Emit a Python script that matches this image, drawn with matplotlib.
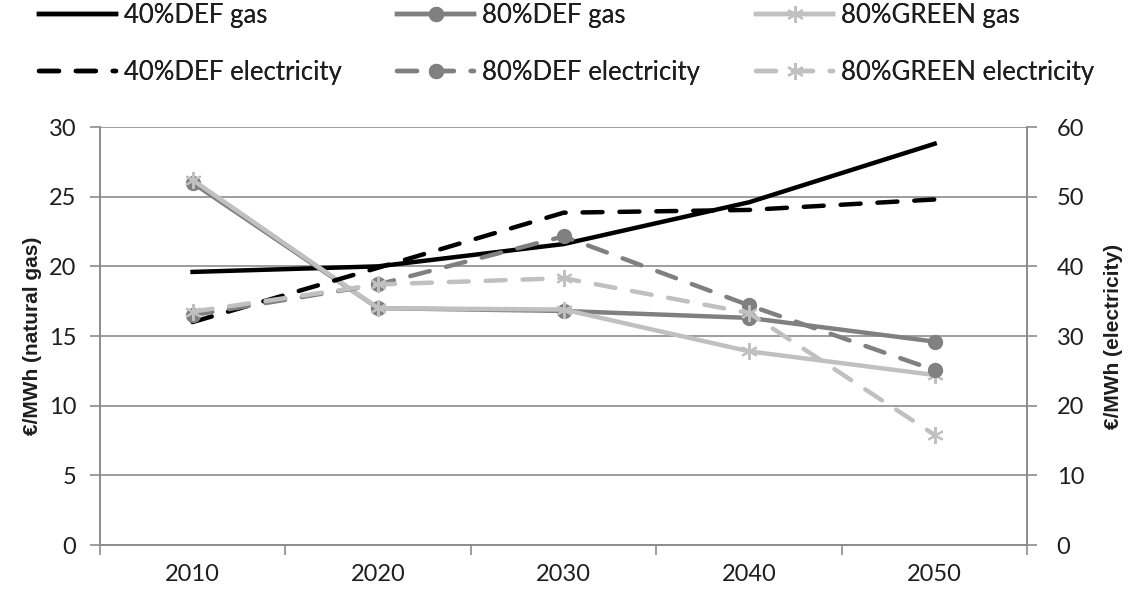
import matplotlib
matplotlib.use("Agg")
import matplotlib.pyplot as plt
from matplotlib.ticker import FixedLocator

plt.rcParams['font.family'] = ['Lato', 'DejaVu Sans']

years = ['2010', '2020', '2030', '2040', '2050']

# gas prices, EUR/MWh (left axis)
gas_40def = [19.6, 20.0, 21.6, 24.6, 28.8]
gas_80def = [26.0, 17.0, 16.8, 16.3, 14.6]
gas_80green = [26.2, 17.0, 16.9, 13.9, 12.2]

# electricity prices, EUR/MWh (right axis)
el_40def = [32.0, 39.8, 47.7, 48.1, 49.6]
el_80def = [33.0, 37.4, 44.3, 34.4, 25.1]
el_80green = [33.5, 37.4, 38.3, 33.3, 15.8]

black = '#000000'
mid = '#808080'
light = '#c0c0c0'
grid = '#8c8c8c'
txt = '#1e1e1e'
star = (6, 2, 0)

fig = plt.figure(figsize=(11.34, 5.98), dpi=100)
ax = fig.add_axes([0.088, 0.0886, 0.818, 0.699])
ax2 = ax.twinx()

x = list(range(len(years)))
lw = 3.2
dash = dict(linestyle=(0, (4.5, 3.8)), dash_capstyle='round')

h1, = ax.plot(x, gas_40def, color=black, lw=lw, label='40%DEF gas')
h3, = ax.plot(x, gas_80def, color=mid, lw=lw, marker='o', ms=10, label='80%DEF gas')
h5, = ax.plot(x, gas_80green, color=light, lw=lw, marker=star, ms=12, mew=1.5,
              label='80%GREEN gas')
h2, = ax2.plot(x, el_40def, color=black, lw=lw, label='40%DEF electricity', **dash)
h4, = ax2.plot(x, el_80def, color=mid, lw=lw, marker='o', ms=10,
               label='80%DEF electricity', **dash)
h6, = ax2.plot(x, el_80green, color=light, lw=lw, marker=star, ms=12, mew=1.5,
               label='80%GREEN electricity', **dash)

ax.set_xlim(-0.5, len(years) - 0.5)
ax.set_ylim(0, 30)
ax2.set_ylim(0, 60)
ax.set_yticks(range(0, 31, 5))
ax2.set_yticks(range(0, 61, 10))
ax.set_xticks(x)
ax.set_xticklabels(years)
ax.xaxis.set_minor_locator(FixedLocator([i - 0.5 for i in range(len(years) + 1)]))

ax.yaxis.grid(True, color=grid, lw=1.2)
ax.set_axisbelow(True)
ax.tick_params(axis='x', which='major', length=0, labelsize=17, pad=14, colors=txt)
ax.tick_params(axis='x', which='minor', length=7, color=grid, width=1.2)
ax.tick_params(axis='y', length=7, color=grid, width=1.2, labelsize=17, pad=10,
               labelcolor=txt)
ax2.tick_params(axis='y', length=7, color=grid, width=1.2, labelsize=17, pad=14,
                labelcolor=txt)

for a in (ax, ax2):
    a.spines['top'].set_visible(False)
    for s in ('left', 'right', 'bottom'):
        a.spines[s].set_color(grid)
        a.spines[s].set_linewidth(1.2)

lab = dict(fontsize=15, fontweight='bold', family='Liberation Sans', color=txt)
ax.set_ylabel('€/MWh (natural gas)', labelpad=5, **lab)
ax2.set_ylabel('€/MWh (electricity)', rotation=90, labelpad=14, **lab)

# one legend per column, handles start at these figure x positions
col_x = [39 / 1134, 397 / 1134, 756 / 1134]
for cx, hs in zip(col_x, [(h1, h2), (h3, h4), (h5, h6)]):
    leg = fig.legend(handles=list(hs), loc='upper left',
                     bbox_to_anchor=(cx - 10 / 1134, 1.0 + 7 / 598), borderaxespad=0,
                     frameon=False, fontsize=18.5, handlelength=3.0, labelspacing=1.25,
                     handletextpad=0.3, labelcolor=txt)
    fig.add_artist(leg)

fig.savefig('out.png', dpi=100)
